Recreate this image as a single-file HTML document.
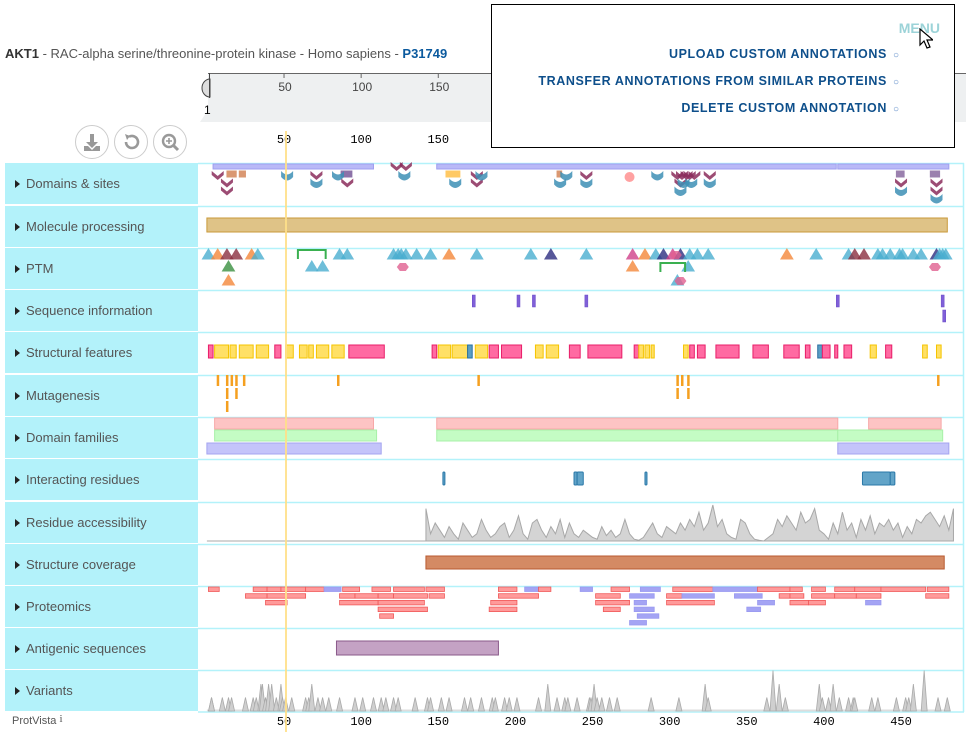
<!DOCTYPE html>
<html><head><meta charset="utf-8">
<style>
body{margin:0;width:966px;height:732px;overflow:hidden;background:#fff;font-family:"Liberation Sans",sans-serif;position:relative}
.lbl{position:absolute;left:5px;width:193px;height:41px;background:#b3f2fa;color:#555;font-size:13px;line-height:41px;box-sizing:border-box;padding-left:10px}
.lbl:before{content:"";display:inline-block;width:0;height:0;border-left:5px solid #222;border-top:4.5px solid transparent;border-bottom:4.5px solid transparent;margin-right:6px;vertical-align:0}
#hdr{position:absolute;left:5px;top:46px;font-size:13px;color:#555}
#hdr b{color:#333}#hdr a{color:#0b5a9e;font-weight:bold;text-decoration:none}
.btn{position:absolute;top:125px;width:32px;height:32px;border:1px solid #ccc;border-radius:50%;background:#fff}
#menu{position:absolute;left:491px;top:4px;width:464px;height:144px;border:1px solid #000;background:#fff;box-sizing:border-box}
#menu .m{position:absolute;right:55px;font-size:12.5px;font-weight:bold;letter-spacing:0.6px;color:#0e4f8b;white-space:nowrap}
#menu .m span{color:#5b8ac8;font-weight:normal;font-size:10px;margin-left:6px;letter-spacing:0}
</style></head><body>
<div id="hdr"><b>AKT1</b> - RAC-alpha serine/threonine-protein kinase - Homo sapiens - <a>P31749</a></div>
<svg id="sv" width="966" height="732" style="position:absolute;left:0;top:0"></svg>
<div class="btn" style="left:75px"><svg width="32" height="32"><path d="M14 8h4v8h4l-6 6-6-6h4z M8 20h4l4 4 4-4h4v5H8z" fill="#999"/></svg></div>
<div class="btn" style="left:114px"><svg width="32" height="32"><path d="M11 16a6 6 0 1 0 3-5.2" fill="none" stroke="#999" stroke-width="2.6"/><path d="M10 8l5 2-3 4z" fill="#999"/></svg></div>
<div class="btn" style="left:153px"><svg width="32" height="32"><circle cx="15" cy="15" r="6" fill="none" stroke="#999" stroke-width="2.4"/><path d="M19 19l5 5" stroke="#999" stroke-width="3"/><path d="M15 12v6M12 15h6" stroke="#999" stroke-width="1.6"/></svg></div>
<div id="labels"></div>
<div style="position:absolute;left:12px;top:713px;font-size:11px;color:#555">ProtVista <span style="font-family:'Liberation Serif',serif;vertical-align:2px">i</span></div>
<div id="menu">
<div style="position:absolute;right:14px;top:15px;font-size:14px;font-weight:bold;color:#9cd3d8">MENU</div>
<svg style="position:absolute;left:427px;top:23px" width="14" height="22"><path d="M1 1v16l4-4 3 7 3-1-3-7h6z" fill="#fff" stroke="#000" stroke-width="1.2"/></svg>
<div class="m" style="top:42px">UPLOAD CUSTOM ANNOTATIONS<span>○</span></div>
<div class="m" style="top:69px">TRANSFER ANNOTATIONS FROM SIMILAR PROTEINS<span>○</span></div>
<div class="m" style="top:96px">DELETE CUSTOM ANNOTATION<span>○</span></div>
</div>
<script>
const trackNames=["Domains & sites","Molecule processing","PTM","Sequence information","Structural features","Mutagenesis","Domain families","Interacting residues","Residue accessibility","Structure coverage","Proteomics","Antigenic sequences","Variants"];
const rowTops=[163,206,248,290,332,375,417,459,502,544,586,628,670];
const axisTicks=[50,100,150,200,250,300,350,400,450];
const rulerTicks=[50,100,150];
const domainBars=[[4,108],[149,408],[409,481]];
const domainSites=[[7,0,"v"],[13,1,"v"],[13,2,"v"],[52,0,"c"],[71,0,"v"],[71,1,"c"],[85,0,"c"],[91,1,"v"],[123,-1,"v"],[129,-1,"v"],[128,0,"c"],[161,1,"c"],[175,0,"v"],[175,1,"v"],[178,0,"c"],[233,0,"c"],[229,1,"c"],[246,0,"v"],[246,1,"c"],[292,0,"c"],[305,0,"v"],[308,0,"v"],[311,0,"v"],[313,0,"v"],[316,0,"v"],[307,1,"v"],[309,1,"c"],[314,1,"c"],[307,2,"c"],[326,0,"v"],[326,1,"c"],[450,1,"v"],[450,2,"c"],[473,1,"v"],[473,2,"v"],[473,3,"c"]];
const domainRects=[[13,19,"#d4875a"],[21,25,"#d4875a"],[87,94,"#7a5a9a"],[155,164,"#ffc04a"],[227,230,"#d4875a"],[447,452,"#8a6aa0"],[469,475,"#8a6aa0"]];
const ptmRes=[1,7,13,19,29,33,86,91,121,124,126,129,136,145,157,175,210,223,246,276,284,291,296,302,307,313,318,325,376,395,416,420,426,435,438,443,449,451,458,463,473,475,477,479];
const ptmRow=[0,0,0,0,0,0,0,0,0,0,0,0,0,0,0,0,0,0,0,0,0,0,0,0,0,0,0,0,0,0,0,0,0,0,0,0,0,0,0,0,0,0,0,0];
const ptmType=["b","o","m","m","o","b","b","b","b","b","b","b","b","b","o","b","b","n","b","p","o","b","n","p","n","b","b","b","o","b","b","m","m","b","b","b","b","b","b","b","n","b","b","b"];
const ptmExtra=[[14,1,"g"],[68,1,"b"],[75,1,"b"],[127,1,"h"],[276,1,"o"],[312,1,"b"],[14,2,"o"],[305,2,"b"],[307,2,"h"],[472,1,"h"],[304,0,"h"]];
const ptmBrackets=[[59,77,0],[294,310,1]];
const seqInfo=[[173,0],[202,0],[212,0],[246,0],[409,0],[477,0],[478,1]];
const structStart=[1,5,15,21,32,44,51,60,66,71,81,92,146,150,159,169,174,183,191,213,220,235,247,277,280,284,288,309,313,318,330,354,374,388,396,399,407,413,430,440,464,473];
const structEnd=[4,14,19,30,40,48,56,65,69,79,89,115,149,158,169,172,182,189,204,218,228,242,269,280,283,287,290,312,316,323,345,364,384,391,399,404,409,418,434,444,467,476];
const structType=["p","y","y","y","y","p","y","y","y","y","y","p","p","y","y","b","y","p","p","y","y","p","p","p","y","y","y","y","p","p","p","p","p","p","b","p","p","p","y","p","y","y"];
const mutRes=[7,13,16,19,24,85,176,305,308,312,474,13,19,305,312,13];
const mutRow=[0,0,0,0,0,0,0,0,0,0,0,1,1,1,1,2];
const famRanges=[[5,108,0],[149,409,0],[429,476,0],[5,110,1],[149,409,1],[409,477,1],[0,113,2],[409,481,2]];
const interacting=[[153,154],[238,240],[240,244],[284,285],[425,443],[443,446]];
const accStart=142;
const accVals=[0.9,0.2,0.5,0.3,0.1,0.4,0.2,0.05,0.5,0.3,0.1,0.2,0.6,0.3,0.1,0.2,0.4,0.5,0.1,0.3,0.7,0.2,0.05,0.5,0.6,0.3,0.1,0.4,0.2,0.6,0.1,0.5,0.2,0.1,0.3,0.2,0.1,0.05,0.4,0.15,0.3,0.1,0.2,0.6,0.2,0.05,0.02,0.1,0.3,0.5,0.2,0.1,0.4,0.3,0.2,0.5,0.3,0.6,0.4,0.8,0.3,0.5,1.0,0.4,0.6,0.2,0.1,0.05,0.6,0.5,0.2,0.05,0.02,0.0,0.1,0.2,0.6,0.4,0.7,0.5,0.3,0.8,0.5,0.6,0.9,0.3,0.2,0.05,0.5,0.2,0.8,0.3,0.5,0.1,0.6,0.3,0.7,0.2,0.5,0.4,0.6,0.3,0.5,0.1,0.4,0.2,0.6,0.5,0.7,0.8,0.6,0.4,0.7,0.3,0.9];
const coverage=[142,478];
const protRows=[
[[1,8,"r"],[30,39,"r"],[39,48,"r"],[48,64,"r"],[64,76,"r"],[76,87,"b"],[88,99,"r"],[107,119,"r"],[121,141,"r"],[142,154,"r"],[189,201,"r"],[206,215,"b"],[215,223,"r"],[242,250,"b"],[262,274,"r"],[281,294,"b"],[302,328,"r"],[328,357,"b"],[357,378,"r"],[378,386,"r"],[392,401,"r"],[407,420,"r"],[420,437,"r"],[437,466,"r"],[467,481,"r"]],
[[25,39,"r"],[39,64,"r"],[86,96,"r"],[96,111,"r"],[111,121,"r"],[121,143,"r"],[144,154,"r"],[189,215,"r"],[252,268,"r"],[274,290,"b"],[298,308,"r"],[308,329,"b"],[342,360,"b"],[371,378,"r"],[378,387,"r"],[392,407,"r"],[407,421,"r"],[421,437,"r"],[466,481,"r"]],
[[38,52,"r"],[86,111,"r"],[111,141,"r"],[184,201,"r"],[252,274,"r"],[277,285,"b"],[298,329,"r"],[357,368,"b"],[378,390,"r"],[390,401,"r"],[427,437,"b"]],
[[111,143,"r"],[183,201,"r"],[257,268,"r"],[277,290,"b"],[350,359,"b"]],
[[112,121,"r"],[279,293,"b"]],
[[274,285,"b"]]];
const antigenic=[84,189];
const varPos=[3,3,10,14,16,25,30,32,35,36,38,40,42,45,48,49,51,55,64,66,68,72,75,79,86,96,101,108,113,116,121,124,135,143,145,152,157,167,171,178,185,187,193,196,201,215,221,227,232,234,240,248,249,251,253,256,261,266,288,306,323,325,363,367,371,375,397,399,403,406,410,416,419,420,431,435,447,453,455,458,465,474,480];
const varCnt=[1,1,1,1,1,1,1,1,2,2,1,2,2,1,2,1,1,1,1,1,2,1,1,1,1,1,1,1,1,1,1,1,1,1,1,1,1,1,1,1,1,1,1,1,1,1,2,1,1,1,1,1,1,2,1,1,1,1,1,1,2,1,1,3,2,1,2,1,1,2,1,1,1,1,1,1,1,1,1,2,3,1,1];

const NS="http://www.w3.org/2000/svg";
const sv=document.getElementById("sv");
const X=r=>206.9+r*1.5425;
function mk(tag,at,parent){const e=document.createElementNS(NS,tag);for(const k in at)e.setAttribute(k,at[k]);(parent||sv).appendChild(e);return e;}
const lab=document.getElementById("labels");
trackNames.forEach((n,i)=>{const d=document.createElement("div");d.className="lbl";d.style.top=rowTops[i]+"px";d.textContent=n;


lab.appendChild(d);
const l=mk("line",{x1:198,x2:964,y1:rowTops[i]+0.5,y2:rowTops[i]+0.5,stroke:"#b3f2fa","stroke-width":1.5});


});
mk("line",{x1:198,x2:964,y1:712,y2:712,stroke:"#b3f2fa","stroke-width":1.5});
mk("line",{x1:963.5,x2:963.5,y1:163,y2:712,stroke:"#b3f2fa","stroke-width":1.5});
const rg=mk("g",{});


mk("path",{d:"M208 73 H970 V122 H200 L208 110 Z",fill:"#eef0f1"},rg);
mk("line",{x1:208,x2:970,y1:73.5,y2:73.5,stroke:"#666"},rg);
mk("path",{d:"M210 79 A8 9 0 0 0 210 97 Z",fill:"#ddd",stroke:"#444"},rg);
mk("line",{x1:209.5,x2:209.5,y1:73,y2:98,stroke:"#444"},rg);
let t=mk("text",{x:204,y:114,"font-size":12,fill:"#000"},rg);t.textContent="1";
rulerTicks.forEach(v=>{mk("line",{x1:X(v),x2:X(v),y1:73,y2:78,stroke:"#666"},rg);
const tt=mk("text",{x:X(v)+1,y:91,"font-size":12,fill:"#444","text-anchor":"middle"},rg);tt.textContent=v;
const t2=mk("text",{x:X(v),y:143,"font-size":12,"font-family":"Liberation Mono, monospace",fill:"#000","text-anchor":"middle"});t2.textContent=v;

});
axisTicks.forEach(v=>{const tt=mk("text",{x:X(v),y:725,"font-size":12,"font-family":"Liberation Mono, monospace",fill:"#000","text-anchor":"middle"});tt.textContent=v;

});
const rowY=[176,183.5,191.5,199];
domainBars.forEach(b=>{const e=mk("rect",{x:X(b[0]),y:164,width:X(b[1])-X(b[0]),height:5,fill:"#b9b9f7",stroke:"#9f9ff0"});

});
domainRects.forEach(b=>{const e=mk("rect",{x:X(b[0]),y:171,width:X(b[1])-X(b[0]),height:6,fill:b[2],opacity:0.85,stroke:b[2]});

});
mk("circle",{cx:X(274),cy:177,r:5,fill:"#ff8a8a",opacity:0.8});
domainSites.forEach(s=>{const cx=X(s[0]),cy=s[1]<0?167:rowY[s[1]];let e;
if(s[2]=="v")e=mk("path",{d:`M${cx-6} ${cy-5}L${cx} ${cy}L${cx+6} ${cy-5}V${cy-1}L${cx} ${cy+4}L${cx-6} ${cy-1}Z`,fill:"#8b2d5c",opacity:0.85});
else e=mk("path",{d:`M${cx-6} ${cy-5}Q${cx} ${cy+2} ${cx+6} ${cy-5}V${cy+1}Q${cx} ${cy+8} ${cx-6} ${cy+1}Z`,fill:"#3d8fb5",opacity:0.85});

});
let mp=mk("rect",{x:X(0),y:218,width:X(480)-X(0),height:14,fill:"#dfc387",stroke:"#c99a3a"});


const ptmCol={b:"#4aaed0",o:"#f5883a",m:"#8b3040",n:"#2e2e80",g:"#3a9040",p:"#d0408a"};
const ptmY=[259,271,285];
function tri(r,row,ty){const cx=X(r),cy=ptmY[row];let e;
if(ty=="h")e=mk("path",{d:`M${cx-6} ${cy-4}L${cx-3} ${cy-8}H${cx+3}L${cx+6} ${cy-4}L${cx+3} ${cy}H${cx-3}Z`,fill:"#e06090",opacity:0.8});
else e=mk("path",{d:`M${cx-6} ${cy}L${cx} ${cy-10}L${cx+6} ${cy}Z`,fill:ptmCol[ty],opacity:0.8,stroke:ptmCol[ty]});

}
ptmRes.forEach((r,i)=>tri(r,ptmRow[i],ptmType[i]));
ptmExtra.forEach(p=>tri(p[0],p[1],p[2]));
ptmBrackets.forEach(b=>{const y=b[2]?263:250;const e=mk("path",{d:`M${X(b[0])} ${y+9}V${y}H${X(b[1])}V${y+9}`,fill:"none",stroke:"#3ab050","stroke-width":2});

});
seqInfo.forEach(s=>{const e=mk("rect",{x:X(s[0])-1.5,y:295+s[1]*15,width:3,height:12,fill:"#8060d8",stroke:"#6a4ac8","stroke-width":0.5});

});
const stCol={p:["#ff6aa2","#e81e68"],y:["#ffe066","#f5c400"],b:["#5a9ec4","#2a70a0"]};
structStart.forEach((s,i)=>{const c=stCol[structType[i]];const e=mk("rect",{x:X(s),y:345,width:Math.max(2,X(structEnd[i])-X(s)),height:13,fill:c[0],stroke:c[1],"stroke-width":1});

});
mutRes.forEach((r,i)=>{const e=mk("rect",{x:X(r)-1,y:375+mutRow[i]*13,width:2.5,height:11,fill:"#f5a020"});

});
const famCol=[["#fdc4c4","#f7a8a8",418],["#c4fcc4","#a8f0a8",430],["#c4c4fa","#a4a4f0",443]];
famRanges.forEach(f=>{const c=famCol[f[2]];const e=mk("rect",{x:X(f[0]),y:c[2],width:X(f[1])-X(f[0]),height:11,fill:c[0],stroke:c[1]});

});
interacting.forEach(f=>{const e=mk("rect",{x:X(f[0]),y:472,width:Math.max(2,X(f[1])-X(f[0])),height:13,fill:"#62a4c8",stroke:"#2a78a8",rx:1});

});
let d=`M${X(0)} 541 H${X(accStart)}`;
accVals.forEach((v,i)=>{d+=` L${X(accStart+i*3)} ${541-v*36}`;});
d+=` L${X(accStart+(accVals.length-1)*3)} 541 H${X(480)}`;
let acc=mk("path",{d:d+" Z",fill:"#d4d4d4",stroke:"#a8a8a8","stroke-width":1});


let cv=mk("rect",{x:X(coverage[0]),y:556,width:X(coverage[1])-X(coverage[0]),height:13,fill:"#d48a64",stroke:"#b85a30"});


protRows.forEach((row,ri)=>row.forEach(p=>{const e=mk("rect",{x:X(p[0]),y:587+ri*6.7,width:X(p[1])-X(p[0]),height:4.5,fill:p[2]=="r"?"#ff9a9a":"#a4a4f4",stroke:p[2]=="r"?"#f05a5a":"#9a9af0","stroke-width":0.8});

}));
let ag=mk("rect",{x:X(antigenic[0]),y:641,width:X(antigenic[1])-X(antigenic[0]),height:14,fill:"#c4a2c4",stroke:"#8a5a8a"});


mk("line",{x1:X(0),x2:X(480),y1:710.5,y2:710.5,stroke:"#ddd","stroke-width":2});
varPos.forEach((p,i)=>{const x=X(p),h=varCnt[i]*13.5;const e=mk("path",{d:`M${x-3} 711L${x} ${711-h}L${x+3} 711Z`,fill:"#cfcfcf",stroke:"#aaa","stroke-width":0.8});

});
let hl=mk("line",{x1:286,x2:286,y1:131,y2:732,stroke:"#ffe08a","stroke-width":2,opacity:0.9});


</script>
</body></html>
